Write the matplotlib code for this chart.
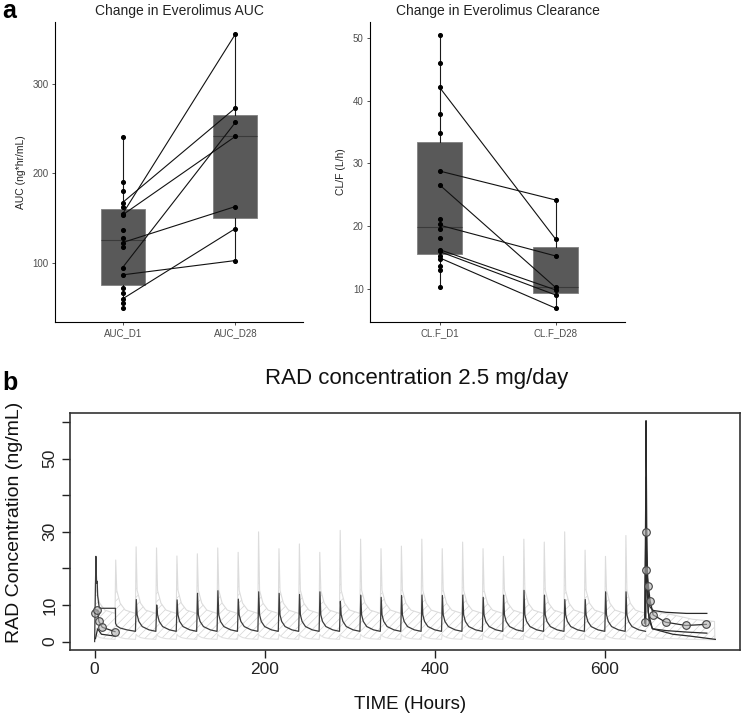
import matplotlib
matplotlib.use("Agg")
import matplotlib.pyplot as plt
import numpy as np

plt.rcParams['font.family'] = ['Liberation Sans', 'DejaVu Sans']
plt.rcParams['hatch.linewidth'] = 0.5

# ---------------- panel a: AUC ----------------
auc_categories = ["AUC_D1", "AUC_D28"]
auc_d1 = [240.4, 190.8, 180.8, 167.4, 162.2, 154.7, 153.6, 136.9, 127.6,
          122.7, 118.2, 94.8, 86.6, 71.7, 66.1, 59.8, 55.0, 49.4]
auc_d28 = [355.4, 272.9, 256.8, 241.2, 162.9, 138.3, 102.6]
auc_pair_d1 = [154.7, 167.4, 153.6, 94.8, 122.7, 86.6, 59.8]
auc_pair_d28 = [355.4, 272.9, 241.2, 256.8, 162.9, 102.6, 138.3]
auc_q1 = [75.4, 150.6]
auc_med = [125.7, 241.2]
auc_q3 = [160.3, 265.4]
auc_lo = [49.4, 102.6]
auc_hi = [240.4, 355.4]

# ---------------- panel a: clearance ----------------
cl_categories = ["CL.F_D1", "CL.F_D28"]
cl_d1 = [50.5, 46.0, 42.1, 37.8, 34.9, 28.8, 26.6, 21.2, 20.4, 19.6, 18.2,
         16.3, 16.1, 15.3, 14.8, 13.7, 13.1, 10.4]
cl_d28 = [24.2, 18.0, 15.3, 10.4, 9.9, 9.1, 7.0]
cl_pair_d1 = [42.1, 28.8, 26.6, 20.2, 16.3, 16.0, 15.0]
cl_pair_d28 = [18.0, 24.2, 10.3, 15.3, 9.9, 9.1, 7.0]
cl_q1 = [15.6, 9.4]
cl_med = [19.9, 10.3]
cl_q3 = [33.4, 16.7]
cl_lo = [10.4, 7.0]
cl_hi = [50.5, 24.2]

# ---------------- panel b: simulated concentrations ----------------
# median curve over the first two days
median_start_t = [0, 1.5, 2.3, 3.0, 3.6, 5.5, 24.5, 24.6, 26, 30, 38, 47.9]
median_start_c = [0, 23.3, 15.9, 16.5, 12.5, 9.1, 9.1, 5.0, 4.3, 3.7, 3.2, 2.8]
median_dose_t = [48, 72, 96, 120, 144, 168, 192, 216, 240, 264, 288, 312, 336,
                 360, 384, 408, 432, 456, 480, 504, 528, 552, 576, 600, 624]
median_peak = [11.5, 10.0, 11.4, 13.2, 13.9, 11.6, 13.6, 13.2, 12.9, 13.6, 11.0,
               12.7, 12.1, 12.6, 12.7, 12.6, 12.7, 12.1, 12.7, 14.0, 12.7, 11.5,
               11.5, 13.6, 13.6]
median_cycle_dt = [0, 1, 2, 4, 8, 16, 23.9]
median_cycle_tail = [2.8, 7.3, 5.5, 4.1, 3.2, 2.8]   # values after the peak

band_dose_t = [0, 24, 48, 72, 96, 120, 144, 168, 192, 216, 240, 264, 288, 312,
               336, 360, 384, 408, 432, 456, 480, 504, 528, 552, 576, 600, 624]
upper_peak = [16.0, 22.3, 25.9, 25.6, 23.4, 24.0, 25.6, 24.4, 30.0, 25.4, 26.7,
              24.4, 30.4, 28.0, 25.4, 26.1, 28.0, 25.4, 27.2, 25.4, 23.3, 28.0,
              27.2, 30.0, 25.0, 23.3, 29.0]
band_cycle_dt = [0, 0.8, 2, 6, 12, 23.9]
upper_cycle_tail = [14.0, 10.5, 8.6, 7.7]
lower_cycle = [0.6, 2.0, 1.6, 1.1, 0.8, 0.6]
band_end_t = [648, 648.8, 650, 657, 680, 703, 729, 729.5]
upper_end_c = [7.7, 28.0, 14.0, 8.2, 7.3, 6.1, 5.5, 0.6]
lower_end_c = [0.6, 2.0, 1.5, 1.0, 0.8, 0.6, 0.5, 0.5]

# observed profiles
obs_day1_t = [0.4, 3, 5, 9, 24]
obs_day1_c = [7.9, 8.6, 5.5, 3.9, 2.7]
obs_day1b_t = [1.0, 3.5, 8, 24]
obs_day1b_c = [0.8, 3.5, 2.0, 1.5]
obs_day28_t = [647, 648.2, 649, 651.3, 653.3, 656.8, 671.5, 695.3, 719.5]
obs_day28_c = [5.3, 30.0, 19.5, 15.2, 11.1, 7.3, 5.3, 4.4, 4.7]
spike_a_t = [648, 648.5, 649.5, 651, 653, 657, 672, 696, 720]
spike_a_c = [4.5, 60.4, 25, 13, 9.5, 8.5, 8.0, 7.7, 7.7]
spike_b_t = [647, 648.3, 649, 652, 656, 672, 696, 720]
spike_b_c = [5.0, 45, 15, 6, 3.5, 3.0, 2.6, 2.3]
spike_c_t = [648, 648.6, 651, 656, 680, 700, 730]
spike_c_c = [4.8, 35, 8, 3.5, 2.0, 1.5, 0.6]

fig = plt.figure(figsize=(7.42, 7.19), dpi=100)

BOX_FILL = '#595959'
TICK_COLOR = '#4d4d4d'


def gg_panel(ax, title, ylabel, cats, d1, d28, p1, p2, q1, med, q3, lo, hi, ylim, yticks):
    stats = [dict(q1=q1[i], med=med[i], q3=q3[i], whislo=lo[i], whishi=hi[i])
             for i in range(2)]
    ax.bxp(stats, positions=[1, 2], widths=0.39, patch_artist=True,
           showfliers=False, showcaps=False,
           boxprops=dict(facecolor=BOX_FILL, edgecolor='#808080', linewidth=0.6),
           medianprops=dict(color='#3a3a3a', linewidth=0.8),
           whiskerprops=dict(color='#1a1a1a', linewidth=0.8))
    for a, b in zip(p1, p2):
        ax.plot([1, 2], [a, b], color='#111111', lw=0.8, zorder=4)
    ax.scatter([1] * len(d1), d1, s=7, color='black', zorder=5)
    ax.scatter([2] * len(d28), d28, s=7, color='black', zorder=5)
    ax.set_xlim(0.4, 2.6)
    ax.set_ylim(*ylim)
    ax.set_xticks([1, 2])
    ax.set_xticklabels(cats)
    ax.set_yticks(yticks)
    ax.tick_params(labelsize=7, colors='#333333', labelcolor=TICK_COLOR,
                   length=2.5, width=0.6, pad=2)
    for s in ['top', 'right']:
        ax.spines[s].set_visible(False)
    for s in ['left', 'bottom']:
        ax.spines[s].set_linewidth(0.8)
    ax.set_title(title, fontsize=10, color='#222222', pad=5)
    ax.set_ylabel(ylabel, fontsize=7.5, color='#222222', labelpad=5)


ax1 = fig.add_axes([0.0741, 0.5522, 0.3342, 0.4172])
gg_panel(ax1, "Change in Everolimus AUC", "AUC (ng*hr/mL)", auc_categories,
         auc_d1, auc_d28, auc_pair_d1, auc_pair_d28,
         auc_q1, auc_med, auc_q3, auc_lo, auc_hi, (34, 369), [100, 200, 300])

ax2 = fig.add_axes([0.4987, 0.5522, 0.3437, 0.4172])
gg_panel(ax2, "Change in Everolimus Clearance", "CL/F (L/h)", cl_categories,
         cl_d1, cl_d28, cl_pair_d1, cl_pair_d28,
         cl_q1, cl_med, cl_q3, cl_lo, cl_hi, (4.8, 52.5), [10, 20, 30, 40, 50])

fig.text(0.003, 1.002, "a", fontsize=18, fontweight='bold', va='top', ha='left')
fig.text(0.003, 0.484, "b", fontsize=18, fontweight='bold', va='top', ha='left')

# ---------------- panel b ----------------
ax3 = fig.add_axes([0.0943, 0.0960, 0.9030, 0.3296])

band_t, band_up, band_lo = [], [], []
for t0, pk in zip(band_dose_t, upper_peak):
    prev = band_up[-1] if band_up else 0.0
    band_t += [t0 + d for d in band_cycle_dt]
    band_up += [prev if t0 == 0 else upper_cycle_tail[-1], pk] + upper_cycle_tail
    band_lo += lower_cycle
band_up[0] = 0.6
band_t += band_end_t
band_up += upper_end_c
band_lo += lower_end_c

ax3.fill_between(band_t, band_lo, band_up, facecolor='none', edgecolor='#d4d4d4',
                 hatch='////', linewidth=0, zorder=1)
ax3.plot(band_t, band_up, color='#dcdcdc', lw=0.8, zorder=2)
ax3.plot(band_t, band_lo, color='#e2e2e2', lw=0.8, zorder=2)

med_t = list(median_start_t)
med_c = list(median_start_c)
for t0, pk in zip(median_dose_t, median_peak):
    med_t += [t0 + d for d in median_cycle_dt]
    med_c += [median_cycle_tail[0], pk] + median_cycle_tail[1:]
ax3.plot(med_t, med_c, color='#3c3c3c', lw=0.9, zorder=3)

for tt, cc in [(spike_a_t, spike_a_c), (spike_b_t, spike_b_c), (spike_c_t, spike_c_c),
               (obs_day1b_t, obs_day1b_c)]:
    ax3.plot(tt, cc, color='#2a2a2a', lw=0.9, zorder=4)
for tt, cc in [(obs_day1_t, obs_day1_c), (obs_day28_t, obs_day28_c)]:
    ax3.plot(tt, cc, color='#2a2a2a', lw=0.9, marker='o', ms=5.5,
             mfc=(0.7, 0.7, 0.7, 0.6), mec='#444444', mew=0.8, zorder=5)

ax3.set_xlim(-29, 759)
ax3.set_ylim(-2.3, 62.5)
ax3.set_xticks([0, 200, 400, 600])
ax3.set_yticks([0, 10, 20, 30, 40, 50, 60])
ax3.set_yticklabels(['0', '10', '', '30', '', '50', ''], rotation=90, va='center')
ax3.tick_params(labelsize=12.5, length=6, width=1.0, pad=3, colors='#222222')
for s in ax3.spines.values():
    s.set_linewidth(1.2)
    s.set_color('#333333')

fig.text(0.561, 0.474, "RAD concentration 2.5 mg/day", fontsize=16,
         ha='center', va='center', color='#111111')
fig.text(0.552, 0.020, "TIME (Hours)", fontsize=13.5, ha='center', va='center',
         color='#111111')
fig.text(0.020, 0.274, "RAD Concentration (ng/mL)", fontsize=14, rotation=90,
         ha='center', va='center', color='#111111')

fig.savefig("out.png", dpi=100)
